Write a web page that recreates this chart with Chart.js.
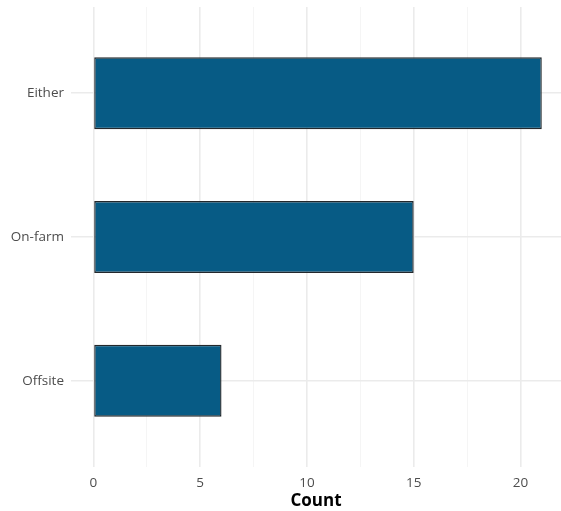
<!DOCTYPE html>
<html>
<head>
<meta charset="utf-8">
<script src="https://cdn.jsdelivr.net/npm/chart.js@4"></script>
<style>
  html, body { margin: 0; padding: 0; background: #fff; }
  #wrap { width: 561px; height: 511px; }
</style>
</head>
<body>
<div id="wrap"><canvas id="myChart"></canvas></div>
<script>
const categories = ["Either", "On-farm", "Offsite"];
const counts = [21, 15, 6];
const xTicks = [0, 2.5, 5, 7.5, 10, 12.5, 15, 17.5, 20];
const xLabelTicks = [0, 5, 10, 15, 20];

const ctx = document.getElementById("myChart").getContext("2d");

new Chart(ctx, {
  type: "bar",
  data: {
    datasets: [
      {
        data: counts.map((c, i) => ({ x: c, y: i })),
        backgroundColor: "#075b85",
        borderColor: "#23282c",
        borderWidth: 1.4,
        borderSkipped: false,
        categoryPercentage: 1,
        barPercentage: 0.5,
      },
    ],
  },
  options: {
    indexAxis: "y",
    responsive: true,
    maintainAspectRatio: false,
    animation: false,
    layout: { padding: { top: 7, right: 0, bottom: 0, left: 0 } },
    plugins: {
      legend: { display: false },
      tooltip: { enabled: false },
    },
    scales: {
      x: {
        type: "linear",
        min: -1.05,
        max: 21.9,
        afterBuildTicks: (scale) => {
          scale.ticks = xTicks.map((v) => ({ value: v }));
        },
        afterFit: (scale) => {
          scale.height = 44;
        },
        border: { display: false },
        grid: {
          drawTicks: false,
          color: (c) => (xLabelTicks.includes(c.tick.value) ? "#ebebeb" : "#f4f4f4"),
          lineWidth: (c) => (xLabelTicks.includes(c.tick.value) ? 1.6 : 0.9),
        },
        ticks: {
          autoSkip: false,
          maxRotation: 0,
          padding: 8,
          color: "#4d4d4d",
          font: { family: "'Open Sans'", size: 13.5 },
          callback: (v) => (xLabelTicks.includes(v) ? String(v) : ""),
        },
        title: {
          display: true,
          text: "Count",
          color: "#000",
          font: { family: "'Open Sans'", size: 17, weight: "bold" },
          padding: { top: 0, bottom: 0 },
        },
      },
      y: {
        type: "linear",
        reverse: true,
        offset: false,
        min: -0.6,
        max: 2.6,
        afterBuildTicks: (scale) => {
          scale.ticks = categories.map((c, i) => ({ value: i }));
        },
        afterFit: (scale) => {
          scale.width = 71;
          scale.paddingTop = 0;
          scale.paddingBottom = 0;
        },
        border: { display: false },
        grid: {
          offset: false,
          drawTicks: false,
          color: "#ebebeb",
          lineWidth: 1.6,
        },
        ticks: {
          autoSkip: false,
          padding: 7,
          color: "#4d4d4d",
          font: { family: "'Open Sans'", size: 13.5 },
          callback: (v) => categories[v],
        },
      },
    },
  },
});
</script>
</body>
</html>
